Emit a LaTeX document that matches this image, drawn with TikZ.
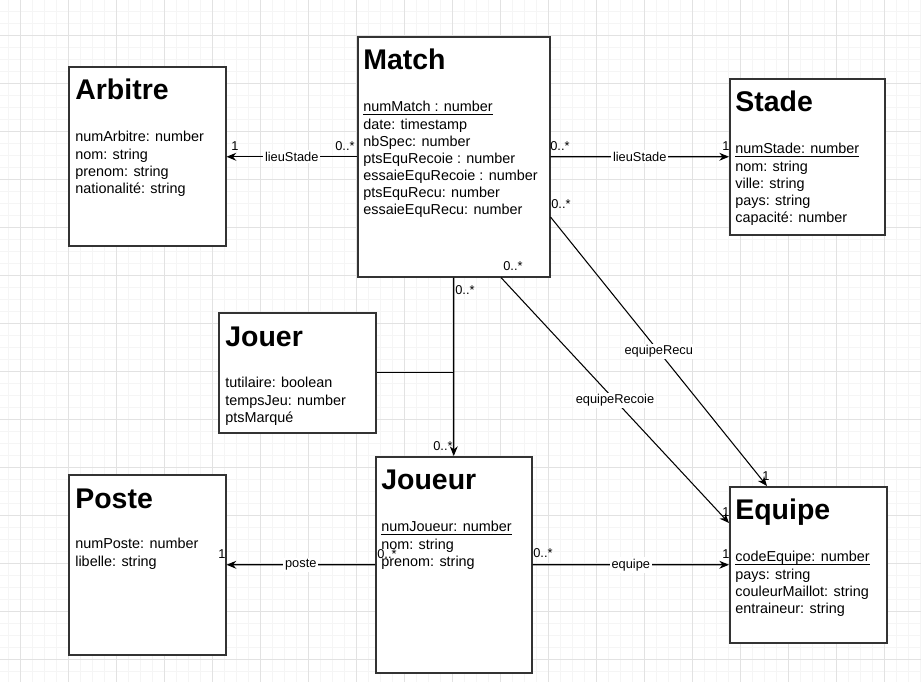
\documentclass[tikz,border=0pt]{standalone}
\usepackage{fontspec}
\setmainfont{Liberation Sans}
\usetikzlibrary{arrows.meta, positioning, calc}
\definecolor{umlborder}{RGB}{51,51,51}
\definecolor{gridminor}{RGB}{245,245,245}
\definecolor{gridmajor}{RGB}{226,226,226}
\newcommand{\pkey}[1]{\underline{\smash{#1}}}
\newcommand{\attrs}[1]{\begin{tabular}[t]{@{}l@{}}#1\end{tabular}}

\begin{document}
\begin{tikzpicture}[x=0.02cm, y=-0.02cm,
    cls/.style={draw=umlborder, line width=0.9pt, fill=white, anchor=north west, inner sep=0pt},
    title/.style={anchor=base west, inner sep=0pt, font=\fontsize{16.2}{19}\selectfont\bfseries},
    attr/.style={anchor=base west, inner sep=0pt, font=\fontsize{8.2}{9.75}\selectfont},
    lbl/.style={fill=white, inner sep=1pt, font=\fontsize{7.3}{8}\selectfont},
    mult/.style={anchor=base west, inner sep=0pt, font=\fontsize{7.3}{8}\selectfont},
    assoc/.style={-{Stealth[length=5.5pt, width=4.5pt]}, line width=0.6pt},
    link/.style={line width=0.6pt}
  ]
    \useasboundingbox[fill=white] (0,0) rectangle (921,682);

    % grid
    \foreach \gx in {8,20,...,920} \draw[gridminor, line width=0.5pt] (\gx,0) -- (\gx,682);
    \foreach \gy in {11,23,...,682} \draw[gridminor, line width=0.5pt] (0,\gy) -- (921,\gy);
    \foreach \gx in {20,68,...,920} \draw[gridmajor, line width=0.5pt] (\gx,0) -- (\gx,682);
    \foreach \gy in {35,83,...,682} \draw[gridmajor, line width=0.5pt] (0,\gy) -- (921,\gy);

    % classes
    \node[cls, minimum width=3.14cm, minimum height=3.58cm] (arb) at (68,66) {};
    \node[cls, minimum width=3.84cm, minimum height=4.80cm] (match) at (357,36) {};
    \node[cls, minimum width=3.10cm, minimum height=3.12cm] (stade) at (729,78) {};
    \node[cls, minimum width=3.14cm, minimum height=2.40cm] (jouer) at (218,312) {};
    \node[cls, minimum width=3.14cm, minimum height=3.60cm] (poste) at (68,474) {};
    \node[cls, minimum width=3.12cm, minimum height=4.32cm] (joueur) at (375,456) {};
    \node[cls, minimum width=3.14cm, minimum height=3.12cm] (equipe) at (729,486) {};

    \node[title] (arb-t) at ($(arb.north west)+(7,34)$) {Arbitre};
    \node[attr] (arb-a) at ($(arb.north west)+(7,76)$)
      {\attrs{numArbitre: number\\nom: string\\prenom: string\\nationalité: string}};

    \node[title] (match-t) at ($(match.north west)+(6,34)$) {Match};
    \node[attr] (match-a) at ($(match.north west)+(6,76)$)
      {\attrs{\pkey{numMatch : number}\\date: timestamp\\nbSpec: number\\ptsEquRecoie : number\\essaieEquRecoie : number\\ptsEquRecu: number\\essaieEquRecu: number}};

    \node[title] (stade-t) at ($(stade.north west)+(6,34)$) {Stade};
    \node[attr] (stade-a) at ($(stade.north west)+(6,76)$)
      {\attrs{\pkey{numStade: number}\\nom: string\\ville: string\\pays: string\\capacité: number}};

    \node[title] (jouer-t) at ($(jouer.north west)+(7,35)$) {Jouer};
    \node[attr] (jouer-a) at ($(jouer.north west)+(7,76)$)
      {\attrs{tutilaire: boolean\\tempsJeu: number\\ptsMarqué}};

    \node[title] (poste-t) at ($(poste.north west)+(7,35)$) {Poste};
    \node[attr] (poste-a) at ($(poste.north west)+(7,75)$)
      {\attrs{numPoste: number\\libelle: string}};

    \node[title] (joueur-t) at ($(joueur.north west)+(6,34)$) {Joueur};
    \node[attr] (joueur-a) at ($(joueur.north west)+(6,76)$)
      {\attrs{\pkey{numJoueur: number}\\nom: string\\prenom: string}};

    \node[title] (equipe-t) at ($(equipe.north west)+(6,34)$) {Equipe};
    \node[attr] (equipe-a) at ($(equipe.north west)+(6,76)$)
      {\attrs{\pkey{codeEquipe: number}\\pays: string\\couleurMaillot: string\\entraineur: string}};

    % associations
    \draw[assoc] (match.west) -- node[lbl] (l-arb) {lieuStade} (match.west -| arb.east);
    \draw[assoc] (match.east) -- node[lbl] (l-stade) {lieuStade} (stade.west);
    \draw[assoc] (match.south) -- (joueur.north);
    \draw[link] (jouer.east) -- (jouer.east -| match.south);
    \draw[assoc] (joueur.west) -- node[lbl] (l-poste) {poste} (poste.east);
    \draw[assoc] (joueur.east) -- node[lbl] (l-equipe) {equipe} (equipe.west);

    \coordinate (recu-s) at ($(match.north east)+(0,181)$);
    \coordinate (recu-e) at ($(equipe.north west)+(38,0)$);
    \draw[assoc] (recu-s) -- node[lbl] (l-recu) {equipeRecu} (recu-e);
    \coordinate (recoie-s) at ($(match.south west)+(144,0)$);
    \coordinate (recoie-e) at ($(equipe.north west)+(0,37)$);
    \draw[assoc] (recoie-s) -- node[lbl] (l-recoie) {equipeRecoie} (recoie-e);

    % multiplicities
    \node[mult] (m-arb) at (231,151) {1};
    \node[mult] (m-arb-match) at (335,151) {0..*};
    \node[mult] (m-stade-match) at (550,151) {0..*};
    \node[mult] (m-stade) at (722,151) {1};
    \node[mult] (m-recu-match) at (551,209) {0..*};
    \node[mult] (m-recu) at (762,481) {1};
    \node[mult] (m-recoie-match) at (503,271) {0..*};
    \node[mult] (m-recoie) at (722,517) {1};
    \node[mult] (m-joueur-match) at (455,295) {0..*};
    \node[mult] (m-joueur) at (433,451) {0..*};
    \node[mult] (m-equipe-joueur) at (533,558) {0..*};
    \node[mult] (m-equipe) at (722,559) {1};
    \node[mult] (m-poste) at (218,559) {1};
    \node[mult] (m-poste-joueur) at (377,559) {0..*};
  \end{tikzpicture}
\end{document}
